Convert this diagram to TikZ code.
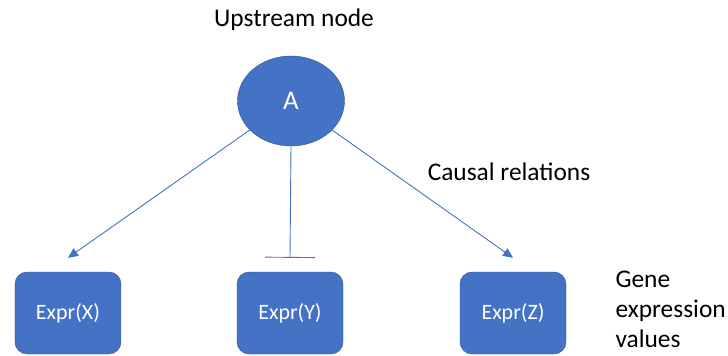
\documentclass[tikz,border=0pt]{standalone}
\usepackage{fontspec}
\setmainfont{Carlito}
\usepackage{tikz}
\usetikzlibrary{shapes.geometric, arrows.meta}
\definecolor{officeblue}{HTML}{4472C4}
\definecolor{officeedge}{HTML}{2F528F}
\tikzstyle{upnode} = [ellipse, minimum width=107bp, minimum height=90bp, inner sep=0pt, fill=officeblue, draw=officeedge, text=white, font=\fontsize{27}{27}\selectfont]
\tikzstyle{expr} = [rectangle, rounded corners=12bp, minimum width=106bp, minimum height=82bp, fill=officeblue, draw=officeedge, text=white, font=\fontsize{22}{22}\selectfont]
\tikzstyle{label} = [font=\fontsize{25.5}{30}\selectfont, text=black]
\tikzstyle{arrow} = [draw=officeblue, line width=0.9bp, -{Triangle[length=10bp,width=9bp]}]
\tikzstyle{inhibit} = [draw=officeblue, line width=0.9bp, -{Bar[width=50bp]}]

\begin{document}
\begin{tikzpicture}[x=1bp, y=-1bp, node distance=212bp]
\useasboundingbox (0,0) rectangle (728,355);
\node (a) [upnode] at (291,101) {A};
\node (expry) [expr, below of=a, xshift=-1bp] {Expr(Y)};
\node (exprx) [expr, left of=expry, xshift=-10bp] {Expr(X)};
\node (exprz) [expr, right of=expry, xshift=11bp] {Expr(Z)};
\node (upstream) [label] at (294,20) {Upstream node};
\node (causal) [label] at (509,172) {Causal relations};
\node (gene) [label, align=left, anchor=west] at (612,309) {Gene\\expression\\values};
% free ends of the connectors, just above the boxes
\coordinate (tipx) at ([yshift=14bp]exprx.north);
\coordinate (tipy) at ([yshift=14bp]expry.north);
\coordinate (tipz) at ([yshift=14bp]exprz.north);
\draw [arrow] (a) -- (tipx);
\draw [inhibit] (a.south) -- (tipy);
\draw [arrow] (a) -- (tipz);
\end{tikzpicture}
\end{document}
